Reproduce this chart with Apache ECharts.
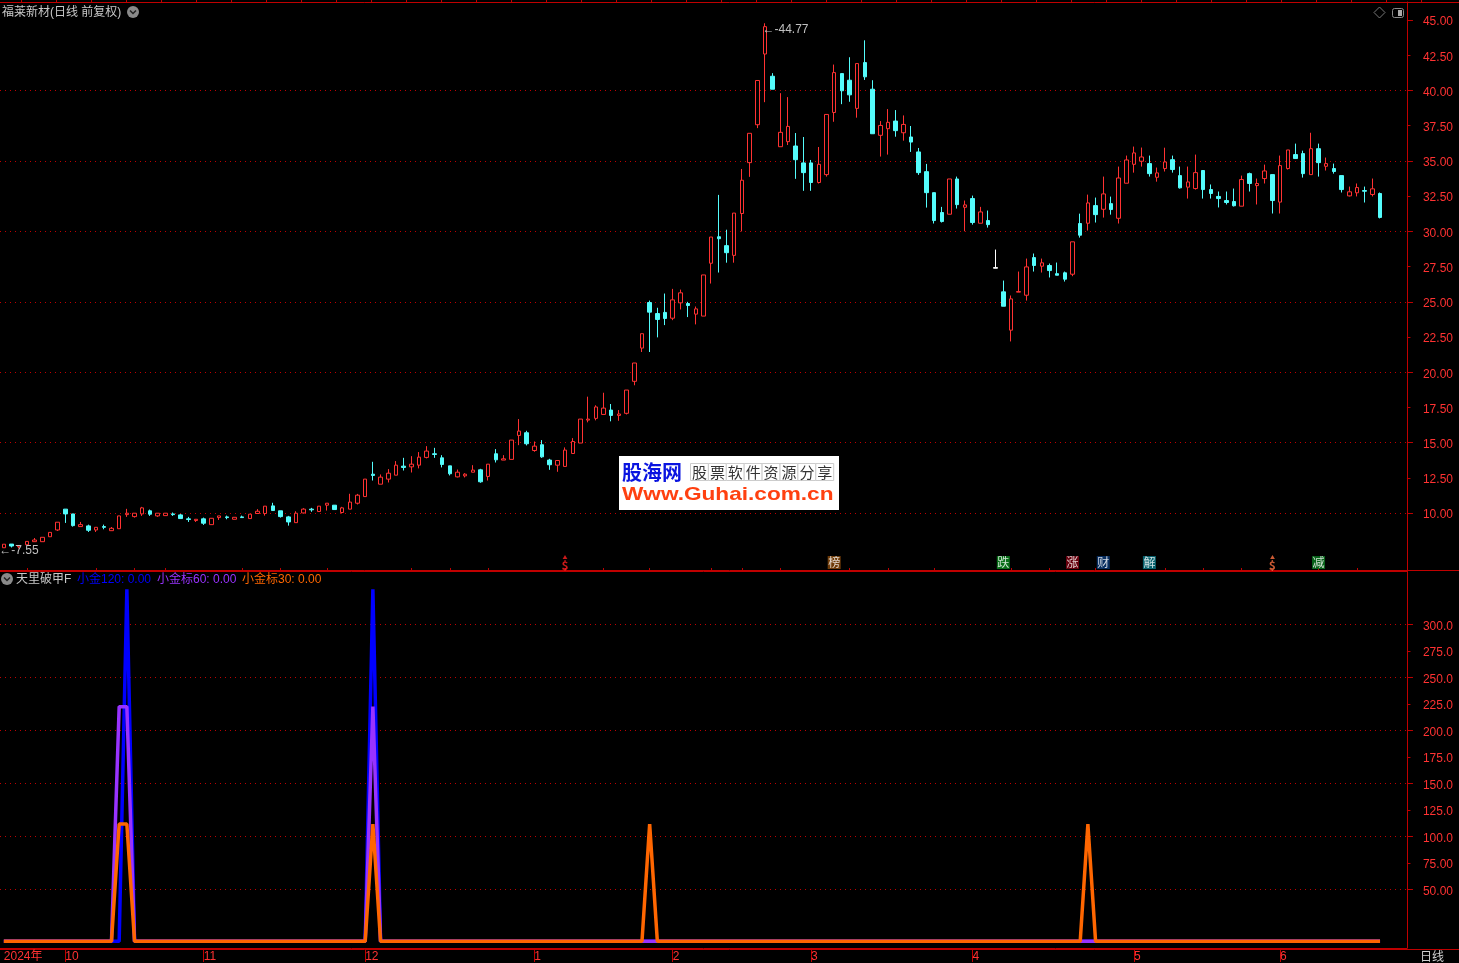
<!DOCTYPE html>
<html>
<head>
<meta charset="utf-8" />
<title>福莱新材</title>
<script src="https://cdn.jsdelivr.net/npm/echarts@6/dist/echarts.min.js"></script>
<style>
  html, body { margin: 0; padding: 0; background: #000; }
  #chart { width: 1459px; height: 963px; }
</style>
</head>
<body>
<div id="chart"></div>
<script>
// K线数据 [开, 收, 低, 高]
const candles = [
  [7.55,7.80,7.55,7.80],[7.81,7.67,7.57,7.81],[7.62,7.71,7.50,7.71],[7.76,8.00,7.76,8.00],[7.98,8.10,7.98,8.24],
  [7.98,8.29,7.98,8.29],[8.33,8.64,8.33,8.64],[8.81,9.36,8.74,9.36],[10.29,9.95,9.31,10.29],[9.95,9.12,9.05,9.95],
  [9.05,9.19,9.05,9.38],[9.10,8.79,8.67,9.19],[8.81,9.00,8.67,9.00],[9.05,9.00,8.86,9.19],[8.76,8.93,8.76,9.02],
  [8.90,9.81,8.90,9.81],[9.90,10.00,9.74,10.31],[9.76,10.00,9.69,10.00],[9.95,10.38,9.81,10.45],[10.17,9.93,9.81,10.26],
  [9.81,10.00,9.74,10.00],[9.83,10.00,9.83,10.00],[9.95,9.90,9.81,10.05],[9.88,9.62,9.62,9.95],[9.60,9.55,9.38,9.74],
  [9.48,9.57,9.38,9.57],[9.60,9.29,9.17,9.69],[9.19,9.64,9.19,9.64],[9.69,9.81,9.52,9.81],[9.74,9.69,9.57,9.83],
  [9.57,9.71,9.57,9.71],[9.74,9.69,9.67,9.83],[9.62,9.93,9.62,9.93],[9.98,10.14,9.98,10.29],[9.98,10.50,9.83,10.50],
  [10.52,10.19,10.19,10.74],[10.17,9.76,9.69,10.17],[9.74,9.38,9.12,9.81],[9.33,10.00,9.33,10.14],[10.02,10.29,9.98,10.36],
  [10.29,10.24,10.10,10.38],[10.12,10.50,10.12,10.50],[10.57,10.71,10.19,10.71],[10.57,10.26,10.26,10.57],[10.05,10.38,9.98,10.45],
  [10.29,10.79,10.29,11.38],[10.71,11.28,10.62,11.37],[11.18,12.42,11.18,12.42],[12.77,12.68,12.32,13.65],[12.06,12.56,12.06,12.75],
  [12.42,12.84,12.18,13.13],[12.70,13.41,12.70,13.70],[13.34,13.25,13.03,13.93],[13.29,13.48,12.89,14.05],[13.41,13.98,13.18,14.34],
  [13.96,14.41,13.89,14.76],[14.22,14.17,13.93,14.64],[13.93,13.46,13.25,14.12],[13.36,12.80,12.68,13.36],[12.58,12.91,12.54,13.10],
  [12.65,12.77,12.54,12.84],[12.91,13.06,12.91,13.41],[13.08,12.23,12.16,13.15],[12.61,13.48,12.32,13.48],[14.22,13.79,13.60,14.55],
  [13.77,13.86,13.77,14.12],[13.82,15.19,13.82,15.19],[15.52,15.83,14.83,16.68],[15.71,14.93,14.81,15.85],[14.45,14.76,14.36,15.09],
  [14.86,14.00,13.93,15.19],[13.77,13.44,13.08,13.86],[13.41,13.74,12.94,13.74],[13.32,14.48,13.32,14.67],[14.24,15.09,14.24,15.33],
  [14.98,16.68,14.98,16.68],[16.61,16.68,16.45,18.27],[16.73,17.54,16.59,17.66],[17.01,17.46,17.01,18.55],[17.32,16.94,16.52,17.75],
  [16.94,17.04,16.56,17.32],[17.09,18.74,17.01,18.74],[19.36,20.66,19.08,20.66],[21.72,22.74,21.44,22.74],[24.95,24.27,21.44,25.09],
  [24.17,23.75,22.48,24.58],[24.25,23.82,23.35,25.59],[23.84,25.14,23.70,25.92],[24.93,25.64,24.46,25.87],[24.88,24.74,23.92,25.00],
  [24.13,24.50,23.40,24.67],[23.99,26.91,23.99,26.91],[27.74,29.60,26.30,29.60],[29.62,29.48,27.08,32.59],[28.99,28.49,27.78,30.12],
  [28.30,31.30,27.78,31.30],[31.27,33.63,30.00,34.43],[34.88,36.96,33.87,36.96],[37.57,40.71,37.33,40.71],[42.59,44.53,39.17,44.77],
  [41.01,40.09,40.09,41.23],[36.01,37.03,36.01,39.81],[36.37,37.45,36.13,39.53],[36.06,35.09,33.73,36.98],[34.86,34.17,32.88,36.70],
  [34.86,33.47,32.88,35.07],[33.47,34.76,33.40,35.99],[34.03,38.30,33.89,38.30],[38.44,41.27,37.78,41.84],[41.20,39.98,39.03,41.20],
  [40.73,39.69,39.20,42.36],[38.73,41.91,38.07,41.91],[41.98,40.97,40.75,43.56],[40.09,36.93,36.93,40.73],[36.82,37.52,35.31,37.83],
  [37.29,37.74,35.45,38.68],[37.83,37.15,36.72,38.61],[37.00,37.59,36.44,38.23],[36.70,36.34,35.64,37.48],[35.64,34.17,34.01,35.92],
  [34.24,32.75,31.69,34.79],[32.75,30.77,30.56,32.75],[31.34,30.70,30.63,31.74],[31.22,33.72,31.22,33.72],[33.72,31.90,31.62,33.89],
  [31.71,31.88,30.01,32.19],[32.33,30.63,30.48,32.54],[30.58,31.38,30.58,31.74],[30.77,30.48,30.27,31.48],[27.39,27.43,27.39,28.71],
  [25.71,24.69,24.69,26.51],[22.99,25.21,22.19,25.45],[25.69,25.73,25.69,27.15],[25.47,27.48,25.09,28.07],[28.14,27.58,27.15,28.43],
  [27.53,27.77,27.08,28.07],[27.58,27.22,26.73,27.72],[27.00,26.89,26.89,27.79],[27.06,26.61,26.44,27.15],[26.96,29.26,26.82,29.26],
  [30.56,29.73,29.56,31.26],[30.58,32.02,30.06,32.61],[31.83,31.19,30.63,32.40],[31.57,32.66,30.98,33.89],[31.97,31.55,31.19,32.47],
  [30.93,33.79,30.56,34.60],[33.42,35.07,33.42,35.38],[34.76,35.57,34.17,36.02],[34.98,35.28,34.60,35.95],[34.81,34.10,33.89,35.38],
  [33.84,34.15,33.53,34.53],[34.46,34.93,34.25,35.94],[35.09,34.39,34.17,35.38],[33.96,33.09,33.04,34.60],[33.14,33.51,32.33,34.60],
  [33.04,34.17,32.97,35.45],[34.32,32.97,32.33,34.32],[32.97,32.69,32.33,33.33],[32.48,32.33,31.70,32.83],[32.19,32.05,31.91,32.83],
  [32.12,31.82,31.77,33.04],[31.79,33.68,31.79,33.96],[34.10,33.40,32.83,34.17],[33.25,33.40,31.91,33.75],[33.75,34.29,33.40,34.74],
  [34.03,32.19,31.27,34.03],[32.08,34.67,31.27,35.38],[34.46,35.78,34.39,35.78],[35.45,35.17,35.17,36.23],[35.52,34.10,33.82,35.73],
  [34.03,35.87,34.03,37.00],[35.87,34.88,33.89,36.23],[34.62,34.81,34.32,35.24],[34.46,34.25,34.10,34.81],[33.96,32.97,32.76,33.96],
  [32.52,32.81,32.48,33.18],[32.74,33.11,32.48,33.40],[32.90,32.85,32.05,33.18],[32.62,33.02,32.48,33.75],[32.69,30.99,30.92,32.76]
]
const whiteCandle = [129]

// 月份刻度
const monthIndex = [0, 8, 26, 47, 69, 87, 105, 126, 147, 166]
const monthLabels = ['2024年', '10', '11', '12', '1', '2', '3', '4', '5', '6']
const minorTickIndex = [3, 12, 17, 21, 31, 36, 42, 53, 58, 63, 73, 78, 84, 92, 96, 101, 110, 115, 121, 131, 136, 142, 151, 156, 161, 171, 176]
const slotCount = 183

const priceLabels = [10, 12.5, 15, 17.5, 20, 22.5, 25, 27.5, 30, 32.5, 35, 37.5, 40, 42.5, 45]
const subLabels = [50, 75, 100, 125, 150, 175, 200, 225, 250, 275, 300]

// 指标：只有这几天不为 0
const peak120 = { 16: 333, 48: 333 }
const peak60 = { 15: 222, 16: 222, 48: 222 }
const peak30 = { 15: 111, 16: 111, 48: 111, 84: 111, 141: 111 }

// 底部事件标记
const tagIndex = [73, 108, 130, 139, 143, 149, 165, 171]
const tagText = ['$', '榜', '跌', '涨', '财', '解', '$', '减']
const tagColor = ['', '#8b4a0a', '#0a8a1e', '#800010', '#0a3a78', '#0a7a8a', '', '#0a7a20']
const tagFont = ['#ff2020', '#fff', '#fff', '#fff', '#fff', '#fff', '#ff7040', '#fff']

const RED = '#ff3232'
const CYAN = '#54fcfc'
const FRAME = '#c00000'
const GRID_LINE = { color: '#c00000', type: [1, 4], width: 1 }
const FONT = '"Liberation Sans", "Noto Sans CJK SC", sans-serif'

const categories = Array.from({ length: slotCount }, (_, i) => {
  const m = monthIndex.indexOf(i)
  return m >= 0 ? monthLabels[m] : String(i)
})
const candleData = candles.map((item, i) => {
  if (whiteCandle.includes(i)) {
    return { value: item, itemStyle: { color: '#fff', color0: '#fff', borderColor: '#fff', borderColor0: '#fff' } }
  }
  return item
})
const spikeLine = (peaks) => candles.map((_, i) => peaks[i] || 0)

const gridLeft = -1.25
const gridWidth = 1408.2

const text = (x, y, str, color, extra) => ({
  type: 'text',
  x,
  y,
  silent: true,
  style: Object.assign({ text: str, fill: color, font: '12px ' + FONT, textVerticalAlign: 'middle' }, extra),
})
const hline = (y, x1, x2) => ({
  type: 'line',
  silent: true,
  shape: { x1, y1: y, x2, y2: y },
  style: { stroke: FRAME, lineWidth: 1 },
})

const topTicks = []
for (let x = 1421.5; x > 0; x -= 35) {
  topTicks.push({
    type: 'line',
    silent: true,
    shape: { x1: x, y1: 0, x2: x, y2: 2 },
    style: { stroke: FRAME, lineWidth: 1 },
  })
}

const foldIcon = (x, y) => [
  { type: 'circle', silent: true, shape: { cx: x, cy: y, r: 6 }, style: { fill: '#8a8a8a' } },
  {
    type: 'polyline',
    silent: true,
    shape: { points: [[x - 3, y - 1.5], [x, y + 1.5], [x + 3, y - 1.5]] },
    style: { stroke: '#222', lineWidth: 1.5, fill: 'none' },
  },
]

const wmCells = '股票软件资源分享'.split('').flatMap((ch, i) => [
  {
    type: 'rect',
    silent: true,
    shape: { x: 690.5 + i * 17.9, y: 463.5, width: 17.9, height: 17 },
    style: { fill: '#fff', stroke: '#ccc', lineWidth: 1 },
  },
  {
    type: 'text',
    silent: true,
    x: 699.5 + i * 17.9,
    y: 472,
    style: {
      text: ch,
      fill: '#333',
      font: '15px "Noto Sans CJK SC", sans-serif',
      textAlign: 'center',
      textVerticalAlign: 'middle',
    },
  },
])

const graphicItems = [
  hline(2.5, 0, 1459),
  hline(570.5, 0, 1459),
  hline(949.5, 0, 1459),
  ...topTicks,
  text(2, 13, '福莱新材(日线 前复权)', '#c8c8c8'),
  ...foldIcon(133, 12),
  ...foldIcon(7, 579),
  text(16, 580, '天里破甲F', '#c8c8c8'),
  text(77, 580, '小金120: 0.00', '#0000ff'),
  text(157, 580, '小金标60: 0.00', '#9933ff'),
  text(242, 580, '小金标30: 0.00', '#ff6600'),
  text(1432, 958, '日线', '#d0d0d0', { textAlign: 'center' }),
  {
    type: 'polygon',
    silent: true,
    shape: { points: [[1379.5, 7], [1385, 12.5], [1379.5, 18], [1374, 12.5]] },
    style: { stroke: '#777', fill: 'none', lineWidth: 1 },
  },
  {
    type: 'rect',
    silent: true,
    shape: { x: 1392.5, y: 8.5, width: 11, height: 9, r: 2 },
    style: { stroke: '#8a8a8a', fill: '#000', lineWidth: 1 },
  },
  {
    type: 'rect',
    silent: true,
    shape: { x: 1398, y: 10, width: 4, height: 6 },
    style: { fill: '#aaa' },
  },
  // 水印
  { type: 'rect', silent: true, shape: { x: 619, y: 456, width: 220, height: 54 }, style: { fill: '#fff' } },
  text(622, 472, '股海网', '#0a14e0', { font: 'bold 20px "Noto Sans CJK SC", sans-serif' }),
  ...wmCells,
  Object.assign(text(622, 494.5, 'Www.Guhai.com.cn', '#ff4010', { font: 'bold 19px "Liberation Sans", sans-serif' }), { scaleX: 1.19 }),
]

const xAxisBase = { type: 'category', data: categories, boundaryGap: true }

// 刻度轴：长刻度、短刻度、虚线都从这里出，min 对齐 interval
const scaleAxis = (gridIndex, min, max, interval, labels, fmt, showMaxLine) => ({
  type: 'value',
  gridIndex,
  position: 'right',
  min,
  max,
  interval,
  axisLine: { show: true, onZero: false, lineStyle: { color: FRAME } },
  axisTick: { show: true, length: 6, lineStyle: { color: FRAME } },
  minorTick: { show: true, splitNumber: 2, length: 3.5, lineStyle: { color: FRAME } },
  splitLine: { show: true, showMaxLine, lineStyle: GRID_LINE },
  axisLabel: {
    customValues: labels,
    formatter: (v) => `{v|${fmt(v)}}`,
    margin: 16,
    rich: { v: { color: RED, fontSize: 12, fontFamily: FONT, padding: [4, 0, 0, 0] } },
  },
})
const frameAxis = (gridIndex, min, max) => ({
  type: 'value',
  gridIndex,
  position: 'right',
  min,
  max,
  splitLine: { show: false },
  axisLine: { show: true, onZero: false, lineStyle: { color: FRAME } },
  axisTick: { show: false },
  axisLabel: { show: false },
})

const option = {
  animation: false,
  backgroundColor: '#000',
  textStyle: { fontFamily: FONT },
  grid: [
    { left: gridLeft, width: gridWidth, top: 2, height: 568 },
    { left: gridLeft, width: gridWidth, top: 571, height: 378 },
    { left: gridLeft, width: gridWidth, top: 20, height: 493.15 },
    { left: gridLeft, width: gridWidth, top: 624.3, height: 265 },
  ],
  xAxis: [
    Object.assign({}, xAxisBase, { gridIndex: 0, show: false }),
    Object.assign({}, xAxisBase, {
      gridIndex: 1,
      axisLine: { show: true, onZero: false, lineStyle: { color: FRAME } },
      axisTick: {
        show: true,
        alignWithLabel: true,
        length: 14,
        lineStyle: { color: FRAME, width: 1 },
        interval: (i) => i > 0 && monthIndex.includes(i),
      },
      axisLabel: {
        interval: (i) => monthIndex.includes(i),
        color: RED,
        fontSize: 12,
        fontFamily: FONT,
        align: 'left',
        margin: 3,
        hideOverlap: false,
      },
    }),
    Object.assign({}, xAxisBase, {
      gridIndex: 1,
      axisLine: { show: true, onZero: false, lineStyle: { color: FRAME } },
      axisLabel: { show: false },
      axisTick: {
        show: true,
        alignWithLabel: true,
        length: 3,
        lineStyle: { color: FRAME },
        interval: (i) => minorTickIndex.includes(i),
      },
    }),
    Object.assign({}, xAxisBase, { gridIndex: 2, show: false }),
    Object.assign({}, xAxisBase, { gridIndex: 3, show: false }),
  ],
  yAxis: [
    frameAxis(0, 5.97, 46.28),
    frameAxis(1, -6.3, 350.3),
    scaleAxis(2, 10, 45, 5, priceLabels, (v) => v.toFixed(2), false),
    scaleAxis(3, 50, 300, 50, subLabels, (v) => (v >= 100 ? v.toFixed(1) : v.toFixed(2)), true),
  ],
  series: [
    {
      name: 'K线',
      type: 'candlestick',
      xAxisIndex: 0,
      yAxisIndex: 0,
      barWidth: 4,
      data: candleData,
      itemStyle: { color: '#000', color0: CYAN, borderColor: RED, borderColor0: CYAN, borderWidth: 1 },
      markPoint: {
        silent: true,
        symbol: 'circle',
        symbolSize: 1,
        itemStyle: { color: 'transparent' },
        label: { show: true, position: 'right', color: '#c0c0c0', fontSize: 12, fontFamily: FONT },
        data: [
          { coord: [99, 44.77], label: { formatter: '←-44.77', offset: [-8, 6] } },
          { coord: [0, 7.55], label: { formatter: '←-7.55', offset: [-10, 3] } },
        ],
      },
    },
    {
      name: '事件',
      type: 'scatter',
      xAxisIndex: 0,
      yAxisIndex: 0,
      symbol: 'rect',
      symbolSize: 13,
      z: 5,
      data: tagIndex.map((idx, i) => ({
        value: [idx, 6.5],
        itemStyle: { color: tagColor[i] || 'transparent' },
        label: {
          show: true,
          position: 'inside',
          formatter: tagColor[i] ? tagText[i] : `{a|▲}\n{b|${tagText[i]}}`,
          color: tagFont[i],
          fontSize: 12,
          fontFamily: '"Noto Sans CJK SC", sans-serif',
          rich: {
            a: { fontSize: 5, lineHeight: 5, color: tagFont[i] },
            b: { fontSize: 12, lineHeight: 10, fontWeight: 'bold', color: tagFont[i] },
          },
        },
      })),
    },
    {
      name: '小金120',
      type: 'line',
      xAxisIndex: 1,
      yAxisIndex: 1,
      showSymbol: false,
      lineStyle: { color: '#0000ff', width: 3.5 },
      data: spikeLine(peak120),
    },
    {
      name: '小金标60',
      type: 'line',
      xAxisIndex: 1,
      yAxisIndex: 1,
      showSymbol: false,
      lineStyle: { color: '#9933ff', width: 3.5 },
      data: spikeLine(peak60),
    },
    {
      name: '小金标30',
      type: 'line',
      xAxisIndex: 1,
      yAxisIndex: 1,
      showSymbol: false,
      lineStyle: { color: '#ff6600', width: 3.5 },
      data: spikeLine(peak30),
    },
  ],
  graphic: graphicItems,
}

const myChart = echarts.init(document.getElementById('chart'), null, { renderer: 'canvas' })
myChart.setOption(option)
</script>
</body>
</html>
